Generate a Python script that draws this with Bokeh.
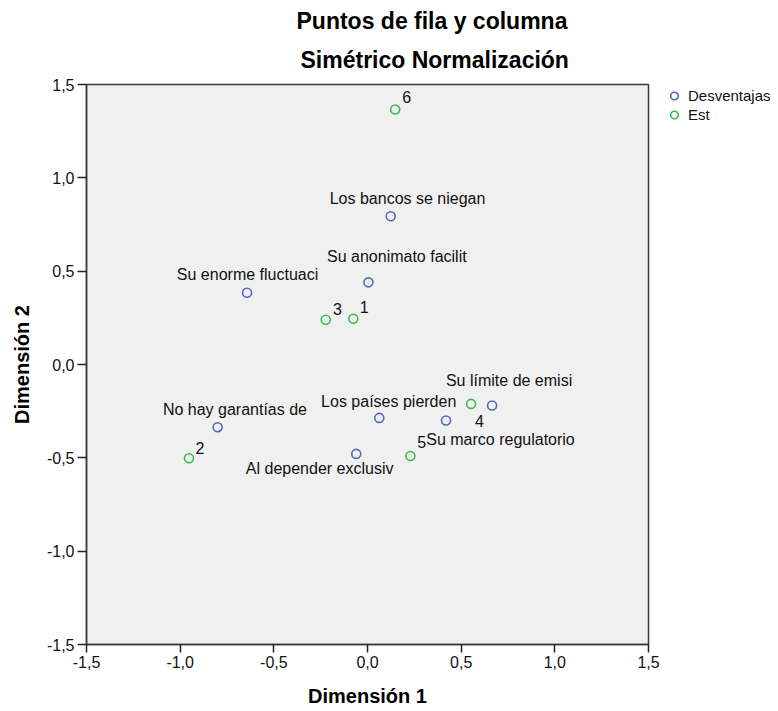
from bokeh.plotting import figure
from bokeh.layouts import row
from bokeh.models import (Range1d, FixedTicker, CustomJSTickFormatter, Title,
                          Legend, LegendItem, ColumnDataSource)
from bokeh.core.properties import value
from bokeh.embed import file_html
from bokeh.resources import INLINE

# ---------------- data ----------------
title_1 = "Puntos de fila y columna"
title_2 = "Simétrico Normalización"
x_label = "Dimensión 1"
y_label = "Dimensión 2"
tick_values = [-1.5, -1.0, -0.5, 0.0, 0.5, 1.0, 1.5]

row_series = "Desventajas"
row_names = ["Los bancos se niegan", "Su anonimato facilit", "Su enorme fluctuaci",
             "No hay garantías de", "Los países pierden", "Al depender exclusiv",
             "Su límite de emisi", "Su marco regulatorio"]
row_dim1 = [0.124, 0.005, -0.643, -0.800, 0.063, -0.060, 0.665, 0.419]
row_dim2 = [0.794, 0.440, 0.384, -0.336, -0.286, -0.479, -0.220, -0.300]

col_series = "Est"
col_names = ["1", "2", "3", "4", "5", "6"]
col_dim1 = [-0.076, -0.953, -0.223, 0.553, 0.229, 0.148]
col_dim2 = [0.245, -0.502, 0.240, -0.211, -0.490, 1.366]

# label placement offsets (screen px, positive dy = down)
row_label_dx = [16.8, 28.4, 0.5, 17.3, 9.4, -36.6, 17.0, 54.5]
row_label_dy = [-17.7, -25.7, -18.3, -17.4, -16.6, 15.0, -25.0, 19.0]
col_label_dx = [11.0, 11.0, 11.6, 8.3, 11.4, 11.4]
col_label_dy = [-11.6, -10.4, -11.0, 16.7, -13.6, -12.6]

# ---------------- style ----------------
FONT = "Liberation Sans"
BLUE = "#5468c0"
GREEN = "#3dbb4f"
TEXT = "#111111"
H = 711

p = figure(width=662, height=H, output_backend="svg", toolbar_location=None,
           x_range=Range1d(-1.5, 1.5), y_range=Range1d(-1.5, 1.5),
           min_border_left=86, min_border_right=14, min_border_top=84,
           min_border_bottom=67)
p.background_fill_color = "#f0f0f0"
p.border_fill_color = "white"
p.outline_line_color = "#3a3a3a"
p.outline_line_width = 1.5
p.xgrid.visible = False
p.ygrid.visible = False

fmt = CustomJSTickFormatter(code="return tick.toFixed(1).replace('.', ',');")
for ax in (p.xaxis[0], p.yaxis[0]):
    ax.ticker = FixedTicker(ticks=tick_values)
    ax.formatter = fmt
    ax.axis_line_color = "#3a3a3a"
    ax.axis_line_width = 1.5
    ax.major_tick_line_color = "#222222"
    ax.major_tick_line_width = 1.5
    ax.major_tick_out = 9
    ax.major_tick_in = 0
    ax.minor_tick_out = 0
    ax.minor_tick_in = 0
    ax.major_label_text_font = FONT
    ax.major_label_text_font_size = "16px"
    ax.major_label_text_color = TEXT
    ax.major_label_standoff = 3
    ax.axis_label_text_font = FONT
    ax.axis_label_text_font_size = "20px"
    ax.axis_label_text_font_style = "bold"
    ax.axis_label_text_color = "#000000"
p.xaxis.axis_label = x_label
p.yaxis.axis_label = y_label
p.xaxis.major_tick_out = 8
p.xaxis.major_label_standoff = 3
p.xaxis.axis_label_standoff = 14
p.yaxis.axis_label_standoff = 11

row_src = ColumnDataSource(dict(x=row_dim1, y=row_dim2, name=row_names,
                                dx=row_label_dx, dy=row_label_dy))
col_src = ColumnDataSource(dict(x=col_dim1, y=col_dim2, name=col_names,
                                dx=col_label_dx, dy=col_label_dy))

p.scatter("x", "y", source=row_src, marker="circle", size=9,
          fill_color=None, line_color=BLUE, line_width=1.6)
p.scatter("x", "y", source=col_src, marker="circle", size=9,
          fill_color=None, line_color=GREEN, line_width=1.6)

for src in (row_src, col_src):
    p.text("x", "y", text="name", source=src, x_offset="dx", y_offset="dy",
           text_align="center", text_baseline="middle",
           text_font=value(FONT), text_font_size="16px", text_color=TEXT)

# titles: the one added first sits closest to the frame
p.add_layout(Title(text=title_2, align="left", offset=214, standoff=23,
                   text_font=FONT, text_font_size="23px", text_font_style="bold",
                   text_color="#000000"), "above")
p.add_layout(Title(text=title_1, align="left", offset=210, standoff=0,
                   text_font=FONT, text_font_size="23px", text_font_style="bold",
                   text_color="#000000"), "above")

# ---------------- legend panel (separate narrow figure) ----------------
# its frame is aligned with the main frame by the row layout; its ranges are
# far from the data so the swatch renderers draw nothing inside it
pl = figure(width=778 - 662, height=H, output_backend="svg", toolbar_location=None,
            x_axis_location=None, y_axis_location=None, min_border=0,
            x_range=Range1d(10, 11), y_range=Range1d(10, 11))
pl.outline_line_color = None
pl.xgrid.visible = False
pl.ygrid.visible = False
sw_row = pl.scatter("x", "y", source=row_src, marker="circle", size=9,
                    fill_color=None, line_color=BLUE, line_width=1.6)
sw_col = pl.scatter("x", "y", source=col_src, marker="circle", size=9,
                    fill_color=None, line_color=GREEN, line_width=1.6)
legend = Legend(items=[LegendItem(label=row_series, renderers=[sw_row]),
                       LegendItem(label=col_series, renderers=[sw_col])],
                location=(1, 520), orientation="vertical",
                glyph_width=22, glyph_height=19, spacing=0, padding=0, margin=0,
                label_standoff=3, label_height=19, label_width=20,
                label_text_font=FONT, label_text_font_size="15px",
                label_text_color=TEXT,
                border_line_color=None, background_fill_alpha=0)
pl.add_layout(legend, "center")

layout = row(p, pl)
open("out.html", "w").write(file_html(layout, INLINE))
